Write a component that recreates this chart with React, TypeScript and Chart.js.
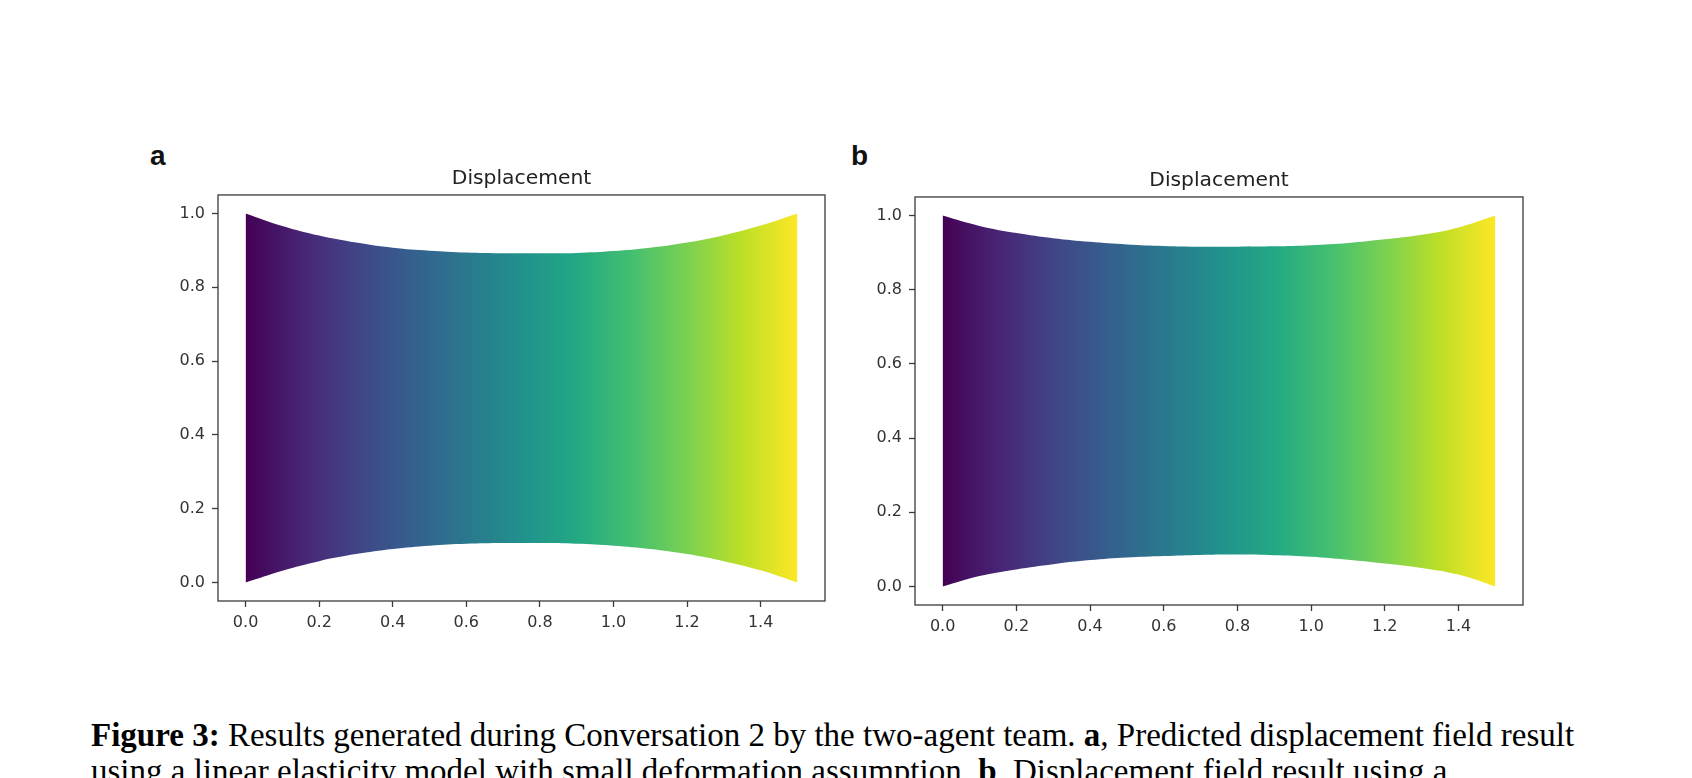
import React, { useEffect, useRef } from "react";
import { Chart, registerables } from "chart.js";

Chart.register(...registerables);

// ---------- data ----------
const xPositions = [0, 0.1, 0.2, 0.3, 0.4, 0.5, 0.6, 0.7, 0.8, 0.9, 1.0, 1.1, 1.2, 1.3, 1.4, 1.5];

const topA = [1.0, 0.966, 0.94, 0.921, 0.907, 0.899, 0.894, 0.892, 0.892, 0.893, 0.898, 0.907, 0.921, 0.941, 0.967, 1.0];
const bottomA = [0.0, 0.032, 0.058, 0.077, 0.091, 0.1, 0.105, 0.107, 0.107, 0.105, 0.1, 0.091, 0.077, 0.058, 0.033, 0.0];

const topB = [1.0, 0.972, 0.953, 0.939, 0.929, 0.922, 0.918, 0.916, 0.916, 0.917, 0.92, 0.926, 0.936, 0.948, 0.968, 1.0];
const bottomB = [0.0, 0.028, 0.046, 0.06, 0.071, 0.078, 0.082, 0.085, 0.086, 0.084, 0.08, 0.072, 0.062, 0.05, 0.032, 0.0];

const viridisStops = [
  "#440154", "#482475", "#414487", "#355f8d", "#2a788e",
  "#21918c", "#22a884", "#44bf70", "#7ad151", "#bddf26", "#fde725",
];

const xRange = [-0.075, 1.575];
const yRange = [-0.05, 1.05];
const tickStep = 0.2;
const chartTitle = "Displacement";
const panelLetters = ["a", "b"];

const captionLine1Bold = "Figure 3:";
const captionLine1 = " Results generated during Conversation 2 by the two-agent team. ";
const captionLine1B = "a";
const captionLine1End = ", Predicted displacement field result";
const captionLine2 = "using a linear elasticity model with small deformation assumption. ";
const captionLine2B = "b";
const captionLine2End = ", Displacement field result using a";

// ---------- layout ----------
const Y_AXIS_W = 88;
const X_AXIS_H = 39;
const TITLE_H = 45;
const RIGHT_PAD = 15;

const frames = [
  { left: 218, top: 195, right: 825, bottom: 601 },
  { left: 915, top: 197, right: 1523, bottom: 605 },
];

const framePlugin = {
  id: "frameBox",
  afterDatasetsDraw(chart: any) {
    const { ctx, chartArea: a } = chart;
    ctx.save();
    ctx.strokeStyle = "#3a3a3a";
    ctx.lineWidth = 1.3;
    ctx.strokeRect(a.left, a.top, a.right - a.left, a.bottom - a.top);
    ctx.restore();
  },
};

function Panel({ frame, top, bottom }: { frame: any; top: number[]; bottom: number[] }) {
  const ref = useRef<HTMLCanvasElement | null>(null);
  const width = frame.right - frame.left + Y_AXIS_W + RIGHT_PAD;
  const height = frame.bottom - frame.top + TITLE_H + X_AXIS_H;

  useEffect(() => {
    if (!ref.current) return;
    const tickFont = { family: "DejaVu Sans", size: 16 };
    const gradient = (c: any) => {
      const chart = c.chart;
      const xs = chart.scales && chart.scales.x;
      if (!chart.chartArea || !xs) return viridisStops[5];
      const x0 = xs.getPixelForValue(xPositions[0]);
      const x1 = xs.getPixelForValue(xPositions[xPositions.length - 1]);
      const g = chart.ctx.createLinearGradient(x0, 0, x1, 0);
      viridisStops.forEach((col, i) => g.addColorStop(i / (viridisStops.length - 1), col));
      return g;
    };
    const chart = new Chart(ref.current, {
      type: "line",
      data: {
        datasets: [
          {
            data: xPositions.map((x, i) => ({ x, y: bottom[i] })),
            borderColor: "rgba(0,0,0,0)",
            borderWidth: 0,
            pointRadius: 0,
            fill: false,
            tension: 0.4,
          },
          {
            data: xPositions.map((x, i) => ({ x, y: top[i] })),
            borderColor: "rgba(0,0,0,0)",
            borderWidth: 0,
            pointRadius: 0,
            fill: "-1",
            backgroundColor: gradient,
            tension: 0.4,
          },
        ],
      },
      options: {
        responsive: false,
        animation: false,
        devicePixelRatio: 1,
        layout: { padding: { left: 0, right: RIGHT_PAD, top: 0, bottom: 0 } },
        plugins: {
          legend: { display: false },
          tooltip: { enabled: false },
          title: {
            display: true,
            text: chartTitle,
            fullSize: false,
            color: "#222",
            font: { family: "DejaVu Sans", size: 20.3, weight: "normal" },
            padding: { top: 17, bottom: 3.6 },
          },
        },
        scales: {
          x: {
            type: "linear",
            position: "bottom",
            min: xRange[0],
            max: xRange[1],
            afterFit: (s: any) => { s.height = X_AXIS_H; },
            border: { display: false },
            grid: { display: true, drawOnChartArea: false, drawTicks: true, tickLength: 6, tickWidth: 1.3, tickColor: "#3a3a3a" },
            ticks: {
              stepSize: tickStep,
              includeBounds: false,
              maxRotation: 0,
              autoSkip: false,
              padding: 6,
              color: "#333",
              font: tickFont,
              callback: (v: any) => Number(v).toFixed(1),
            },
          },
          y: {
            type: "linear",
            position: "left",
            min: yRange[0],
            max: yRange[1],
            afterFit: (s: any) => { s.width = Y_AXIS_W; },
            border: { display: false },
            grid: { display: true, drawOnChartArea: false, drawTicks: true, tickLength: 6, tickWidth: 1.3, tickColor: "#3a3a3a" },
            ticks: {
              stepSize: tickStep,
              includeBounds: false,
              autoSkip: false,
              padding: 7,
              color: "#333",
              font: tickFont,
              callback: (v: any) => Number(v).toFixed(1),
            },
          },
        },
      } as any,
      plugins: [framePlugin],
    });
    return () => chart.destroy();
  }, []);

  return (
    <canvas
      ref={ref}
      width={width}
      height={height}
      style={{
        position: "absolute",
        left: frame.left - Y_AXIS_W,
        top: frame.top - TITLE_H,
        width,
        height,
      }}
    />
  );
}

export default function App() {
  const letterStyle: React.CSSProperties = {
    position: "absolute",
    top: 142,
    fontFamily: "'Liberation Sans', Arimo, Arial, Helvetica, sans-serif",
    fontWeight: 700,
    fontSize: 28,
    lineHeight: "28px",
    color: "#111",
  };
  const captionStyle: React.CSSProperties = {
    position: "absolute",
    left: 91,
    top: 717,
    fontFamily: "'Liberation Serif', 'Times New Roman', serif",
    fontSize: 33,
    lineHeight: "36px",
    color: "#000",
    whiteSpace: "nowrap",
  };
  return (
    <div
      style={{
        position: "absolute",
        left: 0,
        top: 0,
        width: 1692,
        height: 778,
        overflow: "hidden",
        background: "#fff",
      }}
    >
      <div style={{ ...letterStyle, left: 150 }}>{panelLetters[0]}</div>
      <div style={{ ...letterStyle, left: 851 }}>{panelLetters[1]}</div>
      <Panel frame={frames[0]} top={topA} bottom={bottomA} />
      <Panel frame={frames[1]} top={topB} bottom={bottomB} />
      <div style={captionStyle}>
        <div>
          <b>{captionLine1Bold}</b>
          {captionLine1}
          <b>{captionLine1B}</b>
          {captionLine1End}
        </div>
        <div>
          {captionLine2}
          <b>{captionLine2B}</b>
          {captionLine2End}
        </div>
      </div>
    </div>
  );
}
